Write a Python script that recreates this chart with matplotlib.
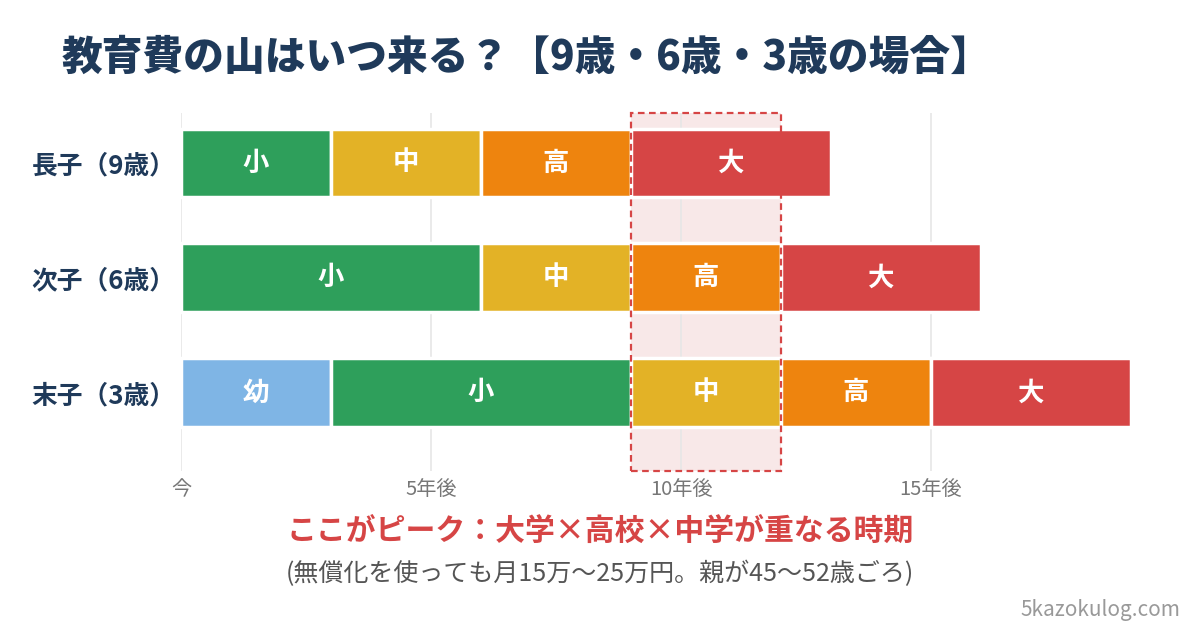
import matplotlib.pyplot as plt
from matplotlib.patches import Rectangle

plt.rcParams['font.family'] = ['Noto Sans CJK JP', 'DejaVu Sans']

# Data: years spent in each school stage, starting from "now"
children = ['長子（9歳）', '次子（6歳）', '末子（3歳）']
stages = ['幼', '小', '中', '高', '大']
eldest = [0, 3, 3, 3, 4]
middle = [0, 6, 3, 3, 4]
youngest = [3, 6, 3, 3, 4]
stage_colors = ['#7fb5e5', '#2e9f5b', '#e3b226', '#ee840e', '#d64545']

peak_start = 9
peak_end = 12

xticks = [0, 5, 10, 15]
xtick_labels = ['今', '5年後', '10年後', '15年後']

navy = '#1f3a5a'

fig = plt.figure(figsize=(12, 6.3), dpi=100)
ax = fig.add_axes([181 / 1200, 1 - 471 / 630, 1000 / 1200, 358 / 630])

# Stacked horizontal bars
for row, durations in enumerate([eldest, middle, youngest]):
    left = 0
    for name, d, c in zip(stages, durations, stage_colors):
        if d == 0:
            continue
        ax.barh(row, d, left=left, height=0.6, color=c,
                edgecolor='white', linewidth=2.5, zorder=2)
        ax.text(left + d / 2, row, name, ha='center', va='center',
                color='white', fontsize=19, fontweight='bold', zorder=4)
        left += d

ax.set_xlim(0, 20)
ax.set_ylim(2.68, -0.435)

# Peak window highlight
ax.add_patch(Rectangle((peak_start, 0), peak_end - peak_start, 1,
                       transform=ax.get_xaxis_transform(),
                       facecolor='#f8e8e8', edgecolor='none', zorder=0))
ax.add_patch(Rectangle((peak_start, 0), peak_end - peak_start, 1,
                       transform=ax.get_xaxis_transform(), clip_on=False,
                       facecolor='none', edgecolor='#d64545',
                       linewidth=1.6, linestyle=(0, (3, 2)), zorder=5))

# Axes styling
for s in ax.spines.values():
    s.set_visible(False)
ax.set_xticks(xticks)
ax.set_xticklabels(xtick_labels, color='#777777', fontsize=14.5)
ax.set_yticks(range(len(children)))
ax.set_yticklabels(children, color=navy, fontsize=18.5, fontweight='bold')
ax.tick_params(length=0)
ax.tick_params(axis='x', pad=6)
ax.tick_params(axis='y', pad=4)
ax.grid(axis='x', color='#e6e6e6', linewidth=1.2, zorder=1)
ax.set_axisbelow(True)

# Texts
fig.text(62 / 1200, 1 - 58 / 630, '教育費の山はいつ来る？【9歳・6歳・3歳の場合】',
         fontsize=29.3, fontweight='heavy', color=navy, va='center', ha='left')
fig.text(0.5, 1 - 532 / 630, 'ここがピーク：大学×高校×中学が重なる時期',
         fontsize=21.5, fontweight='bold', color='#d64545', ha='center', va='center')
fig.text(0.5, 1 - 574 / 630, '(無償化を使っても月15万〜25万円。親が45〜52歳ごろ)',
         fontsize=18, color='#555555', ha='center', va='center')
fig.text(1180 / 1200, 1 - 610 / 630, '5kazokulog.com',
         fontsize=15, color='#999999', ha='right', va='center')

fig.savefig('out.png', dpi=100)
